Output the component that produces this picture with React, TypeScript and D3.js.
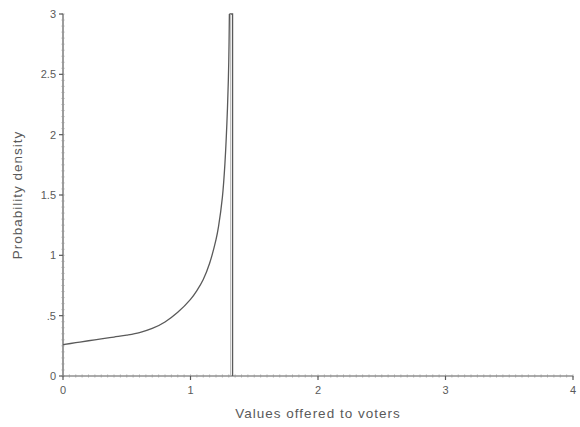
import React from "react";
import * as d3 from "d3";

// Density of values offered to voters (clipped at the top of the plot)
const offerValues = [0, 0.1, 0.2, 0.3, 0.4, 0.5, 0.6, 0.7, 0.8, 0.9, 1.0, 1.05, 1.1, 1.15, 1.2, 1.22, 1.25, 1.27, 1.29, 1.3, 1.305, 1.33, 1.33];
const densityValues = [0.26, 0.276, 0.292, 0.307, 0.323, 0.339, 0.36, 0.394, 0.448, 0.528, 0.635, 0.708, 0.8, 0.935, 1.13, 1.24, 1.48, 1.76, 2.22, 2.6, 3.0, 3.0, 0];

const xTicks = [0, 1, 2, 3, 4];
const xTickLabels = ["0", "1", "2", "3", "4"];
const yTicks = [0, 0.5, 1, 1.5, 2, 2.5, 3];
const yTickLabels = ["0", ".5", "1", "1.5", "2", "2.5", "3"];

const W = 580;
const H = 427;
const ink = "#5a5a5a";
const font = "'Liberation Sans', Arial, sans-serif";

export default function App() {
  const x = d3.scaleLinear().domain([0, 4]).range([63, 573]);
  const y = d3.scaleLinear().domain([0, 3]).range([376, 14]);

  const pts: [number, number][] = offerValues.map((v, i) => [v, densityValues[i]]);
  const line = d3
    .line<[number, number]>()
    .x((d) => x(d[0]))
    .y((d) => y(d[1]))
    .curve(d3.curveCatmullRom.alpha(0.5));
  const curvePath = line(pts.slice(0, 21)) as string;
  const capPath = d3
    .line<[number, number]>()
    .x((d) => x(d[0]))
    .y((d) => y(d[1]))(pts.slice(20)) as string;

  const yMinor = d3.range(0, 3.0001, 0.05);
  const xMinor = d3.range(0, 4.0001, 0.05);

  return (
    <svg
      width={W}
      height={H}
      style={{ position: "absolute", left: 0, top: 0, background: "#fff" }}
    >
      {/* y axis */}
      <line x1={x(0)} x2={x(0)} y1={y(0)} y2={y(3)} stroke={ink} strokeWidth={1.2} />
      {yMinor.map((t, i) => (
        <line key={"ym" + i} x1={x(0) - 1.5} x2={x(0) + 1.5} y1={y(t)} y2={y(t)} stroke="#999" strokeWidth={0.8} />
      ))}
      {yTicks.map((t, i) => (
        <g key={"yt" + i}>
          <line x1={x(0) - 4} x2={x(0)} y1={y(t)} y2={y(t)} stroke={ink} strokeWidth={1.2} />
          <text
            x={x(0) - 7}
            y={y(t) + 4}
            textAnchor="end"
            fontFamily={font}
            fontSize={11}
            fill={ink}
          >
            {yTickLabels[i]}
          </text>
        </g>
      ))}

      {/* x axis */}
      <line x1={x(0)} x2={x(4)} y1={y(0)} y2={y(0)} stroke={ink} strokeWidth={1.2} />
      {xMinor.map((t, i) => (
        <line key={"xm" + i} x1={x(t)} x2={x(t)} y1={y(0) - 1.5} y2={y(0) + 1.5} stroke="#999" strokeWidth={0.8} />
      ))}
      {xTicks.map((t, i) => (
        <g key={"xt" + i}>
          <line x1={x(t)} x2={x(t)} y1={y(0)} y2={y(0) + 4} stroke={ink} strokeWidth={1.2} />
          <text
            x={x(t)}
            y={y(0) + 18}
            textAnchor="middle"
            fontFamily={font}
            fontSize={11}
            fill={ink}
          >
            {xTickLabels[i]}
          </text>
        </g>
      ))}

      {/* density curve */}
      <path d={curvePath} fill="none" stroke={ink} strokeWidth={1.3} />
      <path d={capPath} fill="none" stroke={ink} strokeWidth={1.3} />
      <line x1={x(1.33) - 2} x2={x(1.33) - 2} y1={y(0)} y2={y(3)} stroke="#aaa" strokeWidth={0.8} />

      {/* axis titles */}
      <text
        x={318}
        y={418}
        textAnchor="middle"
        fontFamily={font}
        fontSize={13.5}
        letterSpacing={1}
        fill={ink}
      >
        Values offered to voters
      </text>
      <text
        transform={`translate(22, ${y(1.5)}) rotate(-90)`}
        textAnchor="middle"
        fontFamily={font}
        fontSize={13.5}
        letterSpacing={1}
        fill={ink}
      >
        Probability density
      </text>
    </svg>
  );
}
